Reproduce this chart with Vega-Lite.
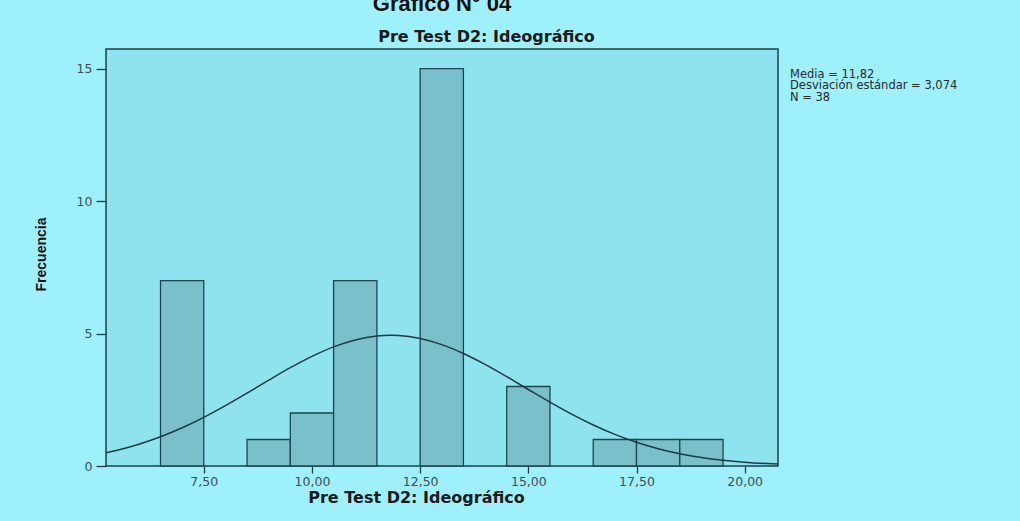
{
  "$schema": "https://vega.github.io/schema/vega-lite/v6.json",
  "width": 672,
  "height": 417,
  "autosize": {"type": "none"},
  "padding": {"left": 106, "top": 49, "right": 242, "bottom": 55},
  "background": "#9ef0fc",
  "title": {"text": "Gráfico N° 04", "font": "Liberation Sans", "fontSize": 22, "fontWeight": "bold", "color": "#111111", "anchor": "middle", "offset": 12},
  "config": {
    "view": {"fill": "#8ee3ee", "stroke": "#1d3f48", "strokeWidth": 1.5}
  },
  "datasets": {
    "barras": [
      {"desde": 6.5, "hasta": 7.5, "frecuencia": 7},
      {"desde": 8.5, "hasta": 9.5, "frecuencia": 1},
      {"desde": 9.5, "hasta": 10.5, "frecuencia": 2},
      {"desde": 10.5, "hasta": 11.5, "frecuencia": 7},
      {"desde": 12.5, "hasta": 13.5, "frecuencia": 15},
      {"desde": 14.5, "hasta": 15.5, "frecuencia": 3},
      {"desde": 16.5, "hasta": 17.5, "frecuencia": 1},
      {"desde": 17.5, "hasta": 18.5, "frecuencia": 1},
      {"desde": 18.5, "hasta": 19.5, "frecuencia": 1}
    ],
    "curva": [
      {"x": 5.24, "y": 0.499},
      {"x": 5.5, "y": 0.596},
      {"x": 6.0, "y": 0.822},
      {"x": 6.5, "y": 1.103},
      {"x": 7.0, "y": 1.443},
      {"x": 7.5, "y": 1.837},
      {"x": 8.0, "y": 2.279},
      {"x": 8.5, "y": 2.753},
      {"x": 9.0, "y": 3.238},
      {"x": 9.5, "y": 3.710},
      {"x": 10.0, "y": 4.139},
      {"x": 10.5, "y": 4.498},
      {"x": 11.0, "y": 4.759},
      {"x": 11.5, "y": 4.905},
      {"x": 11.82, "y": 4.932},
      {"x": 12.0, "y": 4.924},
      {"x": 12.5, "y": 4.813},
      {"x": 13.0, "y": 4.582},
      {"x": 13.5, "y": 4.248},
      {"x": 14.0, "y": 3.836},
      {"x": 14.5, "y": 3.373},
      {"x": 15.0, "y": 2.888},
      {"x": 15.5, "y": 2.409},
      {"x": 16.0, "y": 1.956},
      {"x": 16.5, "y": 1.548},
      {"x": 17.0, "y": 1.193},
      {"x": 17.5, "y": 0.895},
      {"x": 18.0, "y": 0.654},
      {"x": 18.5, "y": 0.465},
      {"x": 19.0, "y": 0.322},
      {"x": 19.5, "y": 0.218},
      {"x": 20.0, "y": 0.143},
      {"x": 20.5, "y": 0.0916},
      {"x": 20.77, "y": 0.0712}
    ],
    "stats": [
      {"texto": "Media = 11,82\nDesviación estándar = 3,074\nN = 38"}
    ]
  },
  "layer": [
    {
      "data": {"name": "barras"},
      "mark": {"type": "rect", "fill": "#79c0cb", "stroke": "#1c4550", "strokeWidth": 1.3},
      "encoding": {
        "x": {
          "field": "desde", "type": "quantitative",
          "scale": {"domain": [5.24, 20.77], "nice": false, "zero": false},
          "axis": {
            "orient": "bottom",
            "values": [7.5, 10, 12.5, 15, 17.5, 20],
            "labelExpr": "replace(format(datum.value, '.2f'), '.', ',')",
            "domain": false, "grid": false,
            "tickSize": 7, "tickColor": "#1d3f48", "tickWidth": 1.3,
            "labelFont": "DejaVu Sans", "labelFontSize": 12.5, "labelColor": "#3d4f55", "labelPadding": 2,
            "title": "Pre Test D2: Ideográfico",
            "titleFont": "DejaVu Sans", "titleFontSize": 16, "titleFontWeight": "bold", "titleColor": "#1a1a1a",
            "titleX": 310, "titleY": 31, "titleAlign": "center", "titleBaseline": "middle"
          }
        },
        "x2": {"field": "hasta"},
        "y": {
          "field": "frecuencia", "type": "quantitative",
          "scale": {"domain": [0, 15.74], "nice": false},
          "axis": {
            "values": [0, 5, 10, 15],
            "domain": false, "grid": false,
            "tickSize": 10, "tickColor": "#1d3f48", "tickWidth": 1.3,
            "labelFont": "DejaVu Sans", "labelFontSize": 12.5, "labelColor": "#3d4f55", "labelPadding": 4,
            "title": "Frecuencia",
            "titleFont": "Liberation Sans Narrow, Liberation Sans", "titleFontSize": 14, "titleFontWeight": "bold", "titleColor": "#111111",
            "titleX": -65, "titleY": 205, "titleAngle": -90, "titleAlign": "center", "titleBaseline": "middle"
          }
        },
        "y2": {"datum": 0}
      }
    },
    {
      "data": {"name": "curva"},
      "mark": {"type": "line", "interpolate": "monotone", "color": "#1d3b44", "strokeWidth": 1.5},
      "encoding": {
        "x": {
          "field": "x", "type": "quantitative",
          "axis": {
            "orient": "top", "domain": false, "ticks": false, "labels": false, "grid": false,
            "title": "Pre Test D2: Ideográfico",
            "titleFont": "DejaVu Sans", "titleFontSize": 16, "titleFontWeight": "bold", "titleColor": "#1a1a1a",
            "titleX": 380, "titleY": -8, "titleAlign": "center", "titleBaseline": "alphabetic"
          }
        },
        "y": {"field": "y", "type": "quantitative", "axis": null}
      }
    },
    {
      "data": {"name": "stats"},
      "mark": {"type": "text", "align": "left", "baseline": "top", "font": "DejaVu Sans", "fontSize": 11.5, "lineHeight": 11.5, "lineBreak": "\n", "dx": 12, "color": "#2a2a2a"},
      "encoding": {
        "text": {"field": "texto", "type": "nominal"},
        "x": {"datum": 20.77, "type": "quantitative", "axis": null},
        "y": {"datum": 15.0, "type": "quantitative", "axis": null}
      }
    }
  ],
  "resolve": {"axis": {"x": "independent", "y": "independent"}}
}
